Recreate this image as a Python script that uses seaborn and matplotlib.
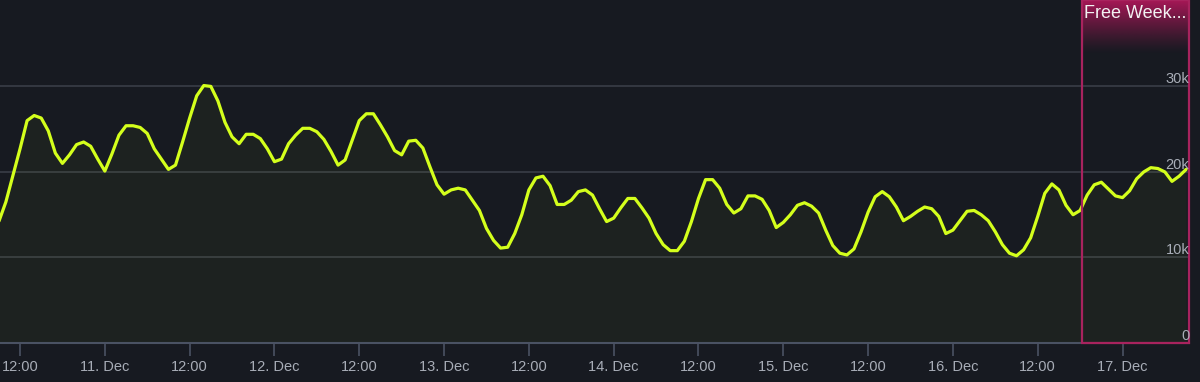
import numpy as np
import pandas as pd
import matplotlib
matplotlib.use("Agg")
import matplotlib.pyplot as plt
import matplotlib.dates as mdates
from matplotlib.patches import Rectangle
from matplotlib.ticker import FuncFormatter
import seaborn as sns

# hourly player counts (first value = 10 Dec 09:00)
start = "2020-12-10 09:00"
players = [
    14200, 16500, 19600, 22700, 26000, 26600, 26300, 24800, 22200, 21000,
    22000, 23200, 23500, 23000, 21500, 20100, 22100, 24300, 25400, 25400,
    25200, 24500, 22700, 21500, 20300, 20800, 23500, 26300, 28900, 30100,
    30000, 28300, 25800, 24100, 23300, 24400, 24400, 23900, 22700, 21200,
    21500, 23300, 24300, 25100, 25100, 24700, 23800, 22400, 20800, 21400,
    23700, 26000, 26800, 26800, 25500, 24100, 22500, 22000, 23600, 23700,
    22800, 20600, 18500, 17400, 17900, 18100, 17900, 16700, 15500, 13400,
    12000, 11100, 11200, 12800, 15000, 17900, 19300, 19500, 18400, 16200,
    16200, 16700, 17700, 17900, 17300, 15700, 14200, 14600, 15800, 16900,
    16900, 15800, 14600, 12800, 11500, 10800, 10800, 11900, 14200, 16900,
    19100, 19100, 18100, 16200, 15200, 15700, 17200, 17200, 16800, 15500,
    13500, 14100, 15000, 16100, 16400, 16000, 15200, 13200, 11400, 10500,
    10300, 11000, 13000, 15300, 17100, 17700, 17100, 15900, 14300, 14800,
    15400, 15900, 15700, 14800, 12800, 13200, 14300, 15400, 15500, 15000,
    14300, 13000, 11500, 10500, 10200, 10900, 12300, 14800, 17500, 18600,
    17900, 16100, 15000, 15500, 17300, 18500, 18800, 18000, 17200, 17000,
    17800, 19200, 20000, 20500, 20400, 20000, 18900, 19500, 20300,
]
y_ticks = [0, 10000, 20000, 30000]
y_labels = ["0", "10k", "20k", "30k"]
event_name = "Free Week..."
event_start = "2020-12-16 18:15"
view_start = "2020-12-10 09:10"
view_end = "2020-12-17 09:26"

times = pd.date_range(start, periods=len(players), freq="h")
df = pd.DataFrame({"time": times, "players": players})

bg = "#171a21"
line_c = "#d4ff1c"
grid_c = "#393d47"
axis_c = "#4a5263"
text_c = "#a8adb7"
event_c = "#a8235e"

sns.set_theme(style="dark")
plt.rcParams["font.family"] = ["Liberation Sans", "DejaVu Sans"]

fig = plt.figure(figsize=(12, 3.82), dpi=100, facecolor=bg)
ax = fig.add_axes([0, 0.102, 0.991, 0.898])
ax.set_facecolor(bg)

sns.lineplot(data=df, x="time", y="players", color=line_c, linewidth=2.3, ax=ax, zorder=4)
ax.fill_between(df["time"], df["players"], color=line_c, alpha=0.035, linewidth=0, zorder=2)

x0 = mdates.date2num(pd.Timestamp(view_start))
x1 = mdates.date2num(pd.Timestamp(view_end))
ymax = 40100

# free weekend band with pink header gradient
ev = mdates.date2num(pd.Timestamp(event_start))
grad = np.zeros((100, 1, 4))
grad[:, 0, :3] = matplotlib.colors.to_rgb("#b0175a")
grad[:, 0, 3] = np.linspace(0.95, 0.0, 100) ** 1.2
ax.imshow(grad, extent=[ev, x1, 33800, ymax], aspect="auto", origin="upper", zorder=3)
ax.add_patch(Rectangle((ev, 0), x1 - ev, ymax, fill=False, edgecolor=event_c,
                       linewidth=1.6, zorder=5, clip_on=False))
ax.annotate(event_name, xy=(ev, 1), xycoords=("data", "axes fraction"),
            xytext=(2, -13), textcoords="offset pixels", ha="left", va="center",
            color="#f2f2f2", fontsize=13, zorder=6)

ax.set_xlim(x0, x1)
ax.set_ylim(0, ymax)

# grid + y labels inside the plot on the right
ax.set_yticks(y_ticks)
ax.set_yticklabels([])
ax.tick_params(axis="y", length=0)
ax.yaxis.grid(True, color=grid_c, linewidth=1.2)
ax.xaxis.grid(False)
for val, lab in zip(y_ticks, y_labels):
    ax.annotate(lab, xy=(1, val), xycoords=("axes fraction", "data"),
                xytext=(0, 3), textcoords="offset pixels", ha="right", va="baseline",
                color=text_c, fontsize=10.5, zorder=6)


def fmt(v, pos):
    d = mdates.num2date(v)
    if d.hour == 0:
        return f"{d.day}. {d:%b}"
    return d.strftime("%H:%M")


ax.xaxis.set_major_locator(mdates.HourLocator(byhour=[0, 12]))
ax.xaxis.set_major_formatter(FuncFormatter(fmt))
ax.tick_params(axis="x", length=9, width=1.2, color=axis_c, labelcolor=text_c,
               labelsize=10.5, pad=3, bottom=True)

for s in ["top", "left", "right"]:
    ax.spines[s].set_visible(False)
ax.spines["bottom"].set_color(axis_c)
ax.spines["bottom"].set_linewidth(1.5)
ax.set_xlabel("")
ax.set_ylabel("")

fig.savefig("out.png", dpi=100, facecolor=bg)
